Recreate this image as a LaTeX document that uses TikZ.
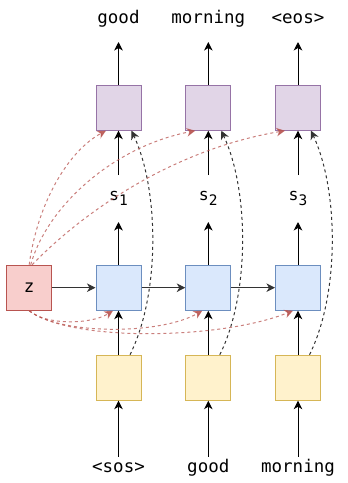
\documentclass[tikz,border=0pt]{standalone}
\usepackage{fontspec}
\newfontfamily\monof{DejaVu Sans Mono}
\usetikzlibrary{arrows.meta,calc}
\definecolor{pfill}{HTML}{E1D5E7}\definecolor{pdraw}{HTML}{9673A6}
\definecolor{bfill}{HTML}{DAE8FC}\definecolor{bdraw}{HTML}{6C8EBF}
\definecolor{yfill}{HTML}{FFF2CC}\definecolor{ydraw}{HTML}{D6B656}
\definecolor{rfill}{HTML}{F8CECC}\definecolor{rdraw}{HTML}{B85450}
\newcommand{\sublbl}[1]{s\raisebox{-5pt}{\fontsize{14.5}{16}\selectfont #1}}
\begin{document}
\begin{tikzpicture}[x=1pt,y=-1pt,
  box/.style={minimum width=45pt,minimum height=45pt,inner sep=0pt,line width=1pt},
  pbox/.style={box,fill=pfill,draw=pdraw},
  bbox/.style={box,fill=bfill,draw=bdraw},
  ybox/.style={box,fill=yfill,draw=ydraw},
  rbox/.style={box,fill=rfill,draw=rdraw,font=\monof\fontsize{17.5}{20}\selectfont},
  tok/.style={font=\monof\fontsize{17.5}{20}\selectfont,inner sep=0pt,anchor=base},
  slbl/.style={font=\monof\fontsize{16.5}{18}\selectfont,inner sep=0pt,anchor=base},
  arr/.style={-{Stealth[length=8.5pt,width=8.5pt,inset=2.5pt]},line width=1pt},
  harr/.style={arr,black!80},
  darr/.style={arr,black!80,dash pattern=on 3pt off 3pt},
  rarr/.style={arr,rdraw,draw opacity=0.75,fill opacity=0.9,dash pattern=on 3pt off 3pt}]
\useasboundingbox (0,0) rectangle (348,483);
% boxes
\node[rbox] (z) at (29.2,287.7) {z};
\node[bbox] (b1) at (118.5,287.7) {};
\node[bbox] (b2) at (208.3,287.7) {};
\node[bbox] (b3) at (298,287.7) {};
\node[pbox] (p1) at (118.5,107.7) {};
\node[pbox] (p2) at (208.3,107.7) {};
\node[pbox] (p3) at (298,107.7) {};
\node[ybox] (y1) at (118.5,377.7) {};
\node[ybox] (y2) at (208.3,377.7) {};
\node[ybox] (y3) at (298,377.7) {};
% texts
\node[tok] (t1) at (118.5,23.3) {good};
\node[tok] (t2) at (208.3,23.3) {morning};
\node[tok] (t3) at (298,23.3) {<eos>};
\node[tok] (i1) at (118.5,472) {<sos>};
\node[tok] (i2) at (208.3,472) {good};
\node[tok] (i3) at (298,472) {morning};
\node[slbl] (s1) at (118.5,200.5) {\sublbl{1}};
\node[slbl] (s2) at (208.3,200.5) {\sublbl{2}};
\node[slbl] (s3) at (298,200.5) {\sublbl{3}};
% vertical arrows
\foreach \i in {1,2,3}{
  \draw[arr] ([yshift=15.5pt]i\i.base) -- (y\i.south);
  \draw[arr] (y\i.north) -- (b\i.south);
  \draw[arr] (b\i.north) -- ([yshift=-21.5pt]s\i.base);
  \draw[arr] ([yshift=25.5pt]s\i.base) -- (p\i.south);
  \draw[arr] (p\i.north) -- ([yshift=-18.7pt]t\i.base);
  \draw[darr] ([xshift=11.5pt]y\i.north) .. controls +(30,-60) and +(28,60) .. ([xshift=13pt]p\i.south);
}
% horizontal arrows
\draw[harr] (z.east) -- (b1.west);
\draw[harr] (b1.east) -- (b2.west);
\draw[harr] (b2.east) -- (b3.west);
% red dashed from z top
\draw[rarr] (z.north) .. controls (38,200) and (70,150) .. ([xshift=-12.5pt]p1.south);
\draw[rarr] ([xshift=1.5pt]z.north) .. controls (47,207) and (112,147) .. ([xshift=-13pt]p2.south);
\draw[rarr] ([xshift=3pt]z.north) .. controls (80,215) and (170,150) .. ([xshift=-13pt]p3.south);
% red dashed from z bottom
\draw[rarr] (z.south) .. controls (45,325) and (90,325) .. ([xshift=-5.5pt]b1.south);
\draw[rarr] (z.south) .. controls (60,335) and (160,335) .. ([xshift=-6pt]b2.south);
\draw[rarr] (z.south) .. controls (70,342) and (220,340) .. ([xshift=-5pt]b3.south);
\end{tikzpicture}
\end{document}
